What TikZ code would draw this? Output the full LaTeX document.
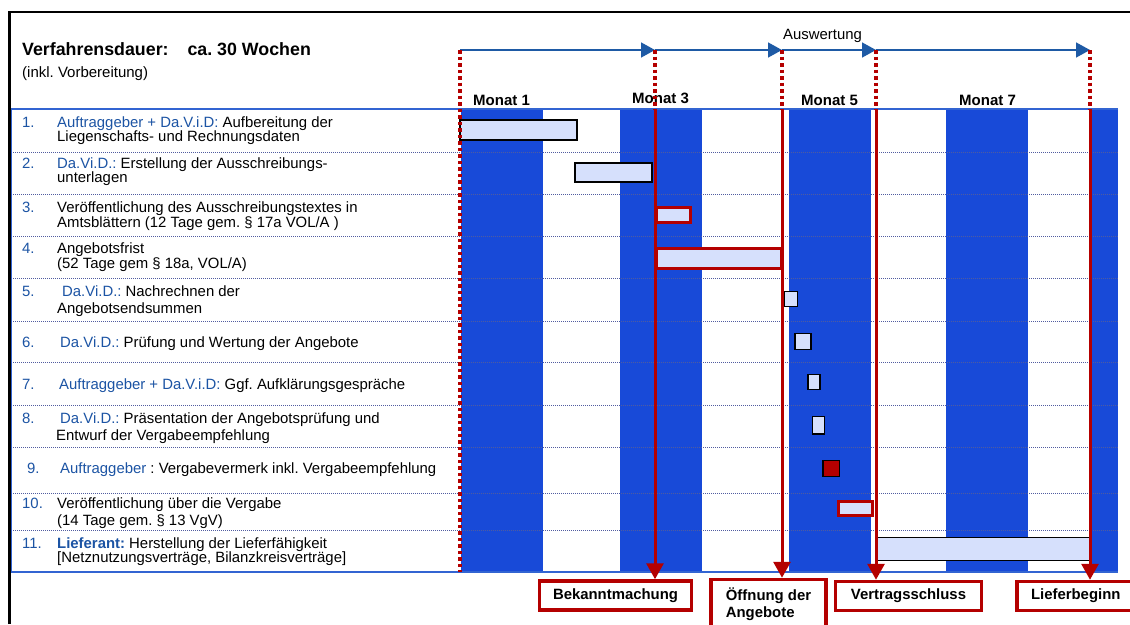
\documentclass[tikz,border=0pt]{standalone}
\usepackage{fontspec}
\setmainfont{Liberation Sans}
\usetikzlibrary{arrows.meta}
\frenchspacing

\definecolor{stripeblue}{RGB}{24,74,216}
\definecolor{labelblue}{RGB}{28,84,164}
\definecolor{axisblue}{RGB}{30,90,165}
\definecolor{darkred}{RGB}{180,0,0}
\definecolor{barfill}{RGB}{214,224,252}
\definecolor{gridblue}{RGB}{80,92,160}
\definecolor{tableline}{RGB}{50,100,210}

\newcommand{\party}[1]{\textcolor{labelblue}{#1}}

\begin{document}
\begin{tikzpicture}[x=1pt,y=-1pt,
  txt/.style={anchor=base west,inner sep=0pt,font=\fontsize{14.9}{15}\selectfont},
  num/.style={txt,text=labelblue},
  month/.style={anchor=base west,inner sep=0pt,font=\bfseries\fontsize{15}{15}\selectfont},
  bar/.style={draw=black,line width=1.5pt,fill=barfill},
  redbar/.style={draw=darkred,line width=3pt,fill=barfill},
  milestone/.style={draw=darkred,line width=3.5pt,fill=white,minimum height=29pt,align=left,font=\bfseries\fontsize{14.9}{17}\selectfont},
  reddots/.style={darkred,line width=3.2pt,dash pattern=on 3.5pt off 3pt},
  due/.style={darkred,line width=3pt,-{Triangle[length=16pt,width=17pt]}},
  span/.style={axisblue,line width=1.5pt,-{Triangle[length=14pt,width=15pt]}}]
\clip (0,0) rectangle (1130,624);
\fill[white] (0,0) rectangle (1130,624);
% frame
\draw[line width=2.5pt] (9.5,624) -- (9.5,12) -- (1130,12);
% week stripes and rows
\foreach \a/\b in {461/543,620/702,789/871,946/1028,1092/1118}
  \fill[stripeblue] (\a,109) rectangle (\b,572);
\foreach \y in {152,194,236,278,321,362,405,447,493,530}
  \draw[gridblue,line width=0.8pt,dash pattern=on 1pt off 1pt] (11,\y) -- (1118,\y);
\draw[tableline,line width=1.2pt] (1118,109) -- (11.5,109) -- (11.5,572) -- (1118,572);
\coordinate (top) at (0,109);
\coordinate (bot) at (0,572);
% heading
\node[anchor=base west,inner sep=0pt,font=\bfseries\fontsize{17.8}{18}\selectfont] (title) at (22,55) {Verfahrensdauer:\hspace{14pt} ca. 30 Wochen};
\node[anchor=base west,inner sep=0pt,font=\fontsize{15}{15}\selectfont] (sub) at (22,77) {(inkl. Vorbereitung)};
\node[txt] (eval) at (783,39) {Auswertung};
\node[month] (m1) at (473,105) {Monat 1};
\node[month] (m3) at (632,103) {Monat 3};
\node[month] (m5) at (801,105) {Monat 5};
\node[month] (m7) at (959,105) {Monat 7};
% tasks
\node[num] (n1) at (22,127) {1.};
\node[txt] (r1a) at (57,127) {\party{Auftraggeber + Da.V.i.D:} Aufbereitung der};
\node[txt] (r1b) at (57,141) {Liegenschafts- und Rechnungsdaten};
\node[num] (n2) at (22,168) {2.};
\node[txt] (r2a) at (57,168) {\party{Da.Vi.D.:} Erstellung der Ausschreibungs-};
\node[txt] (r2b) at (57,182) {unterlagen};
\node[num] (n3) at (22,212) {3.};
\node[txt] (r3a) at (57,212) {Veröffentlichung des Ausschreibungstextes in};
\node[txt] (r3b) at (57,227) {Amtsblättern (12 Tage gem. § 17a VOL/A )};
\node[num] (n4) at (22,253) {4.};
\node[txt] (r4a) at (57,253) {Angebotsfrist};
\node[txt] (r4b) at (57,268) {(52 Tage gem § 18a, VOL/A)};
\node[num] (n5) at (22,296) {5.};
\node[txt] (r5a) at (62,296) {\party{Da.Vi.D.:} Nachrechnen der};
\node[txt] (r5b) at (57,313) {Angebotsendsummen};
\node[num] (n6) at (22,347) {6.};
\node[txt] (r6) at (60,347) {\party{Da.Vi.D.:} Prüfung und Wertung der Angebote};
\node[num] (n7) at (22,389) {7.};
\node[txt] (r7) at (59,389) {\party{Auftraggeber + Da.V.i.D:} Ggf. Aufklärungsgespräche};
\node[num] (n8) at (22,423) {8.};
\node[txt] (r8a) at (60,423) {\party{Da.Vi.D.:} Präsentation der Angebotsprüfung und};
\node[txt] (r8b) at (56,440) {Entwurf der Vergabeempfehlung};
\node[num] (n9) at (27,473) {9.};
\node[txt] (r9) at (60,473) {\party{Auftraggeber} : Vergabevermerk inkl. Vergabeempfehlung};
\node[num] (n10) at (22,508) {10.};
\node[txt] (r10a) at (57,508) {Veröffentlichung über die Vergabe};
\node[txt] (r10b) at (57,525) {(14 Tage gem. § 13 VgV)};
\node[num] (n11) at (22,548) {11.};
\node[txt] (r11a) at (57,548) {\party{\bfseries Lieferant:} Herstellung der Lieferfähigkeit};
\node[txt] (r11b) at (57,562) {[Netznutzungsverträge, Bilanzkreisverträge]};
% bars
\draw[bar] (460,120) rectangle (577,140);
\draw[bar] (575,163) rectangle (652,182);
\draw[redbar] (656.5,207.5) rectangle (690.5,222.5);
\draw[redbar] (656.5,248.5) rectangle (781.5,268.5);
\draw[bar] (784.5,291.5) rectangle (797.5,306.5);
\draw[bar] (795,333.5) rectangle (811,349.5);
\draw[bar] (808,374.5) rectangle (820,389.5);
\draw[bar] (812.5,416.5) rectangle (824.5,434);
\draw[bar,fill=darkred] (823,460.5) rectangle (839.5,476.5);
\draw[redbar] (838.5,501.5) rectangle (872.5,515.5);
\draw[bar] (876.5,537.5) rectangle (1089.5,560.5);
% milestones
\node[milestone,minimum width=152pt] (bek) at (615.5,595.5) {Bekanntmachung};
\node[milestone,minimum width=115pt,minimum height=50pt,anchor=north] (open) at (768.5,577.75) {Öffnung der\\Angebote};
\node[milestone,minimum width=146pt] (contract) at (908.5,596) {Vertragsschluss};
\node[milestone,minimum width=118pt] (supply) at (1075.75,596) {Lieferbeginn};
% time line
\coordinate (t0) at (460,50);
\coordinate (t1) at (655,50);
\coordinate (t2) at (782,50);
\coordinate (t3) at (876,50);
\coordinate (t4) at (1090,50);
\draw[span] (t0) -- (t1);
\draw[span] (t1) -- (t2);
\draw[span] (t2) -- (t3);
\draw[span] (t3) -- (t4);
\draw[reddots] (t0) -- (t0 |- bot);
\draw[reddots] (t1) -- (t1 |- top);
\draw[reddots] (t2) -- (t2 |- top);
\draw[reddots] (t3) -- (t3 |- top);
\draw[reddots] (t4) -- (t4 |- top);
\draw[due] (t1 |- top) -- (t1 |- bek.north);
\draw[due] (t2 |- top) -- (t2 |- open.north);
\draw[due] (t3 |- top) -- (t3 |- contract.north);
\draw[due] (t4 |- top) -- (t4 |- supply.north);
\end{tikzpicture}
\end{document}
